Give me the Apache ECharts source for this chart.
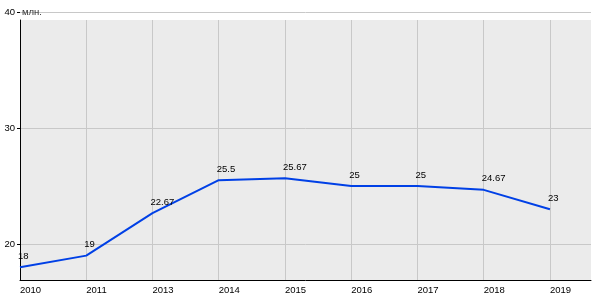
<!DOCTYPE html>
<html><head><meta charset="utf-8">
<script src="https://cdn.jsdelivr.net/npm/echarts@6/dist/echarts.min.js"></script>
<style>html,body{margin:0;padding:0;background:#fff}#c{width:600px;height:300px}</style>
</head><body><div id="c"></div>
<script>
var categories = ['2010','2011','2013','2014','2015','2016','2017','2018','2019'];
var values = [18, 19, 22.67, 25.5, 25.67, 25, 25, 24.67, 23];
var yTicks = [20, 30, 40];
var unitName = 'млн.';

var Y_MIN = 16.9, Y_MAX_BG = 39.31, Y_MAX_TOP = 40, X_MAX = 8.62;
var font = 'Liberation Sans, Arial, sans-serif';
var chart = echarts.init(document.getElementById('c'), null, {renderer: 'canvas'});
chart.setOption({
  animation: false,
  grid: [
    {left: 20, right: 9, top: 20, bottom: 20, show: true, backgroundColor: '#EBEBEB', borderWidth: 0, z: -1},
    {left: 20, right: 9, top: 12, bottom: 20, show: false}
  ],
  xAxis: [
    {gridIndex: 0, type: 'value', min: 0, max: X_MAX, interval: 1,
     axisLine: {show: true, onZero: false, lineStyle: {color: '#000', width: 1}},
     axisTick: {show: false},
     axisLabel: {color: '#000', fontFamily: font, fontSize: 9.5, margin: 5, align: 'left', showMaxLabel: false,
       formatter: function (v) { return Number.isInteger(v) && categories[v] !== undefined ? categories[v] : ''; }},
     splitLine: {show: true, showMinLine: false, showMaxLine: false, lineStyle: {color: '#C8C8C8', width: 1}}},
    {gridIndex: 1, type: 'value', min: 0, max: X_MAX, show: false}
  ],
  yAxis: [
    {gridIndex: 0, type: 'value', min: Y_MIN, max: Y_MAX_BG,
     axisLine: {show: true, onZero: false, lineStyle: {color: '#000', width: 1}},
     axisTick: {show: false}, axisLabel: {show: false}, splitLine: {show: false}},
    // mirrored (negated + inverse) so ticks counted from min land on 40, 30, 20
    {gridIndex: 1, type: 'value', inverse: true, min: -Y_MAX_TOP, max: -Y_MIN, interval: 10,
     name: unitName, nameLocation: 'start', nameGap: 0,
     nameTextStyle: {align: 'left', verticalAlign: 'middle', color: '#333', fontFamily: font, fontSize: 9.5, padding: [2, 0, 0, 2]},
     axisLine: {show: false},
     axisTick: {show: true, length: 3, lineStyle: {color: '#000'}},
     axisLabel: {color: '#000', fontFamily: font, fontSize: 9.5, margin: 5, padding: [0, 0, 4, 0], showMaxLabel: false,
       formatter: function (v) { return yTicks.indexOf(-v) >= 0 ? String(-v) : ''; }},
     splitLine: {show: true, showMaxLine: false, lineStyle: {color: '#C8C8C8', width: 1}}}
  ],
  series: [{
    type: 'line', xAxisIndex: 0, yAxisIndex: 0,
    data: values.map(function (v, i) { return [i, v]; }),
    showSymbol: true, symbol: 'circle', symbolSize: 0,
    itemStyle: {color: '#0040E6'},
    lineStyle: {color: '#0040E6', width: 2},
    label: {show: true, position: 'top', align: 'left', distance: 6, offset: [-2, 0],
      color: '#000', fontFamily: font, fontSize: 9.5,
      formatter: function (p) { return String(p.value[1]); }},
    z: 5
  }]
});
</script></body></html>
